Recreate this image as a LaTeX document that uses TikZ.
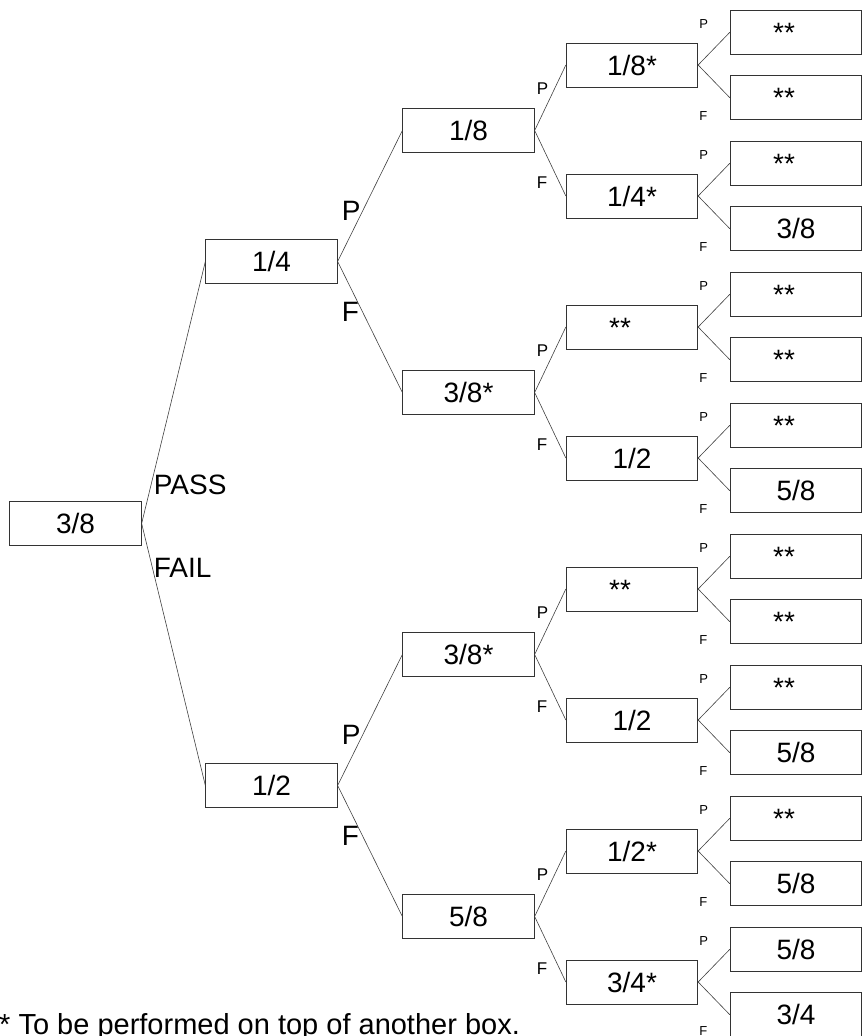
\documentclass[tikz,border=0pt]{standalone}
\usepackage{fontspec}
\setmainfont{Liberation Sans}
\usetikzlibrary{positioning}

\begin{document}
\begin{tikzpicture}[x=1pt, y=-1pt, on grid,
    box/.style={rectangle, draw=black!80, line width=0.8pt, minimum width=131.5pt, minimum height=44pt, inner sep=0pt, text height=20pt, text depth=0pt, font=\fontsize{28}{30}\selectfont},
    bigtag/.style={inner sep=0pt, font=\fontsize{28}{30}\selectfont},
    midtag/.style={inner sep=0pt, font=\fontsize{17}{19}\selectfont},
    smalltag/.style={inner sep=0pt, font=\fontsize{13}{15}\selectfont},
    link/.style={draw=black!75, line width=0.6pt}
]
\useasboundingbox (0,0) rectangle (866,1036);

% Level 0: starting box
\node (t) [box] at (75.5,523.5) {3/8};

% Level 1
\node (tp) [box, above right=262pt and 196pt of t] {1/4};
\node (tf) [box, below right=262pt and 196pt of t] {1/2};

% Level 2
\node (tpp) [box, above right=131pt and 197pt of tp] {1/8};
\node (tpf) [box, below right=131pt and 197pt of tp] {3/8*};
\node (tfp) [box, above right=131pt and 197pt of tf] {3/8*};
\node (tff) [box, below right=131pt and 197pt of tf] {5/8};

% Level 3
\node (tppp) [box, above right=65.5pt and 163.5pt of tpp] {1/8*};
\node (tppf) [box, below right=65.5pt and 163.5pt of tpp] {1/4*};
\node (tpfp) [box, above right=65.5pt and 163.5pt of tpf] {**\kern24pt};
\node (tpff) [box, below right=65.5pt and 163.5pt of tpf] {1/2};
\node (tfpp) [box, above right=65.5pt and 163.5pt of tfp] {**\kern24pt};
\node (tfpf) [box, below right=65.5pt and 163.5pt of tfp] {1/2};
\node (tffp) [box, above right=65.5pt and 163.5pt of tff] {1/2*};
\node (tfff) [box, below right=65.5pt and 163.5pt of tff] {3/4*};

% Level 4
\node (tpppp) [box, above right=32.75pt and 164pt of tppp] {**\kern24pt};
\node (tpppf) [box, below right=32.75pt and 164pt of tppp] {**\kern24pt};
\node (tppfp) [box, above right=32.75pt and 164pt of tppf] {**\kern24pt};
\node (tppff) [box, below right=32.75pt and 164pt of tppf] {3/8};
\node (tpfpp) [box, above right=32.75pt and 164pt of tpfp] {**\kern24pt};
\node (tpfpf) [box, below right=32.75pt and 164pt of tpfp] {**\kern24pt};
\node (tpffp) [box, above right=32.75pt and 164pt of tpff] {**\kern24pt};
\node (tpfff) [box, below right=32.75pt and 164pt of tpff] {5/8};
\node (tfppp) [box, above right=32.75pt and 164pt of tfpp] {**\kern24pt};
\node (tfppf) [box, below right=32.75pt and 164pt of tfpp] {**\kern24pt};
\node (tfpfp) [box, above right=32.75pt and 164pt of tfpf] {**\kern24pt};
\node (tfpff) [box, below right=32.75pt and 164pt of tfpf] {5/8};
\node (tffpp) [box, above right=32.75pt and 164pt of tffp] {**\kern24pt};
\node (tffpf) [box, below right=32.75pt and 164pt of tffp] {5/8};
\node (tfffp) [box, above right=32.75pt and 164pt of tfff] {5/8};
\node (tffff) [box, below right=32.75pt and 164pt of tfff] {3/4};

% Branch labels
\node (pass) [bigtag, above right=38.5pt and 12pt of t.east, anchor=west] {PASS};
\node (fail) [bigtag, below right=44.5pt and 12pt of t.east, anchor=west] {FAIL};

\node (tpP) [bigtag, above right=41pt and 4pt of tp.east] {P};
\node (tpF) [bigtag, below right=41pt and 4pt of tp.east] {F};
\node (tfP) [bigtag, above right=41pt and 4pt of tf.east] {P};
\node (tfF) [bigtag, below right=41pt and 4pt of tf.east] {F};

\node (tppP) [midtag, above right=36pt and 2pt of tpp.east] {P};
\node (tppF) [midtag, below right=46pt and 2pt of tpp.east] {F};
\node (tpfP) [midtag, above right=36pt and 2pt of tpf.east] {P};
\node (tpfF) [midtag, below right=46pt and 2pt of tpf.east] {F};
\node (tfpP) [midtag, above right=36pt and 2pt of tfp.east] {P};
\node (tfpF) [midtag, below right=46pt and 2pt of tfp.east] {F};
\node (tffP) [midtag, above right=36pt and 2pt of tff.east] {P};
\node (tffF) [midtag, below right=46pt and 2pt of tff.east] {F};

\node (tpppP) [smalltag, above right=36pt and 1pt of tppp.east] {P};
\node (tpppF) [smalltag, below right=46pt and 1pt of tppp.east] {F};
\node (tppfP) [smalltag, above right=36pt and 1pt of tppf.east] {P};
\node (tppfF) [smalltag, below right=46pt and 1pt of tppf.east] {F};
\node (tpfpP) [smalltag, above right=36pt and 1pt of tpfp.east] {P};
\node (tpfpF) [smalltag, below right=46pt and 1pt of tpfp.east] {F};
\node (tpffP) [smalltag, above right=36pt and 1pt of tpff.east] {P};
\node (tpffF) [smalltag, below right=46pt and 1pt of tpff.east] {F};
\node (tfppP) [smalltag, above right=36pt and 1pt of tfpp.east] {P};
\node (tfppF) [smalltag, below right=46pt and 1pt of tfpp.east] {F};
\node (tfpfP) [smalltag, above right=36pt and 1pt of tfpf.east] {P};
\node (tfpfF) [smalltag, below right=46pt and 1pt of tfpf.east] {F};
\node (tffpP) [smalltag, above right=36pt and 1pt of tffp.east] {P};
\node (tffpF) [smalltag, below right=46pt and 1pt of tffp.east] {F};
\node (tfffP) [smalltag, above right=36pt and 1pt of tfff.east] {P};
\node (tfffF) [smalltag, below right=44pt and 1pt of tfff.east] {F};

% Footnote
\node (note) [anchor=base west, inner sep=0pt, font=\fontsize{29}{31}\selectfont] at (-1,1034) {* To be performed on top of another box.};

% Connections
\draw [link] (t.east) -- (tp.west);
\draw [link] (t.east) -- (tf.west);

\draw [link] (tp.east) -- (tpp.west);
\draw [link] (tp.east) -- (tpf.west);
\draw [link] (tf.east) -- (tfp.west);
\draw [link] (tf.east) -- (tff.west);

\draw [link] (tpp.east) -- (tppp.west);
\draw [link] (tpp.east) -- (tppf.west);
\draw [link] (tpf.east) -- (tpfp.west);
\draw [link] (tpf.east) -- (tpff.west);
\draw [link] (tfp.east) -- (tfpp.west);
\draw [link] (tfp.east) -- (tfpf.west);
\draw [link] (tff.east) -- (tffp.west);
\draw [link] (tff.east) -- (tfff.west);

\draw [link] (tppp.east) -- (tpppp.west);
\draw [link] (tppp.east) -- (tpppf.west);
\draw [link] (tppf.east) -- (tppfp.west);
\draw [link] (tppf.east) -- (tppff.west);
\draw [link] (tpfp.east) -- (tpfpp.west);
\draw [link] (tpfp.east) -- (tpfpf.west);
\draw [link] (tpff.east) -- (tpffp.west);
\draw [link] (tpff.east) -- (tpfff.west);
\draw [link] (tfpp.east) -- (tfppp.west);
\draw [link] (tfpp.east) -- (tfppf.west);
\draw [link] (tfpf.east) -- (tfpfp.west);
\draw [link] (tfpf.east) -- (tfpff.west);
\draw [link] (tffp.east) -- (tffpp.west);
\draw [link] (tffp.east) -- (tffpf.west);
\draw [link] (tfff.east) -- (tfffp.west);
\draw [link] (tfff.east) -- (tffff.west);

\end{tikzpicture}
\end{document}
